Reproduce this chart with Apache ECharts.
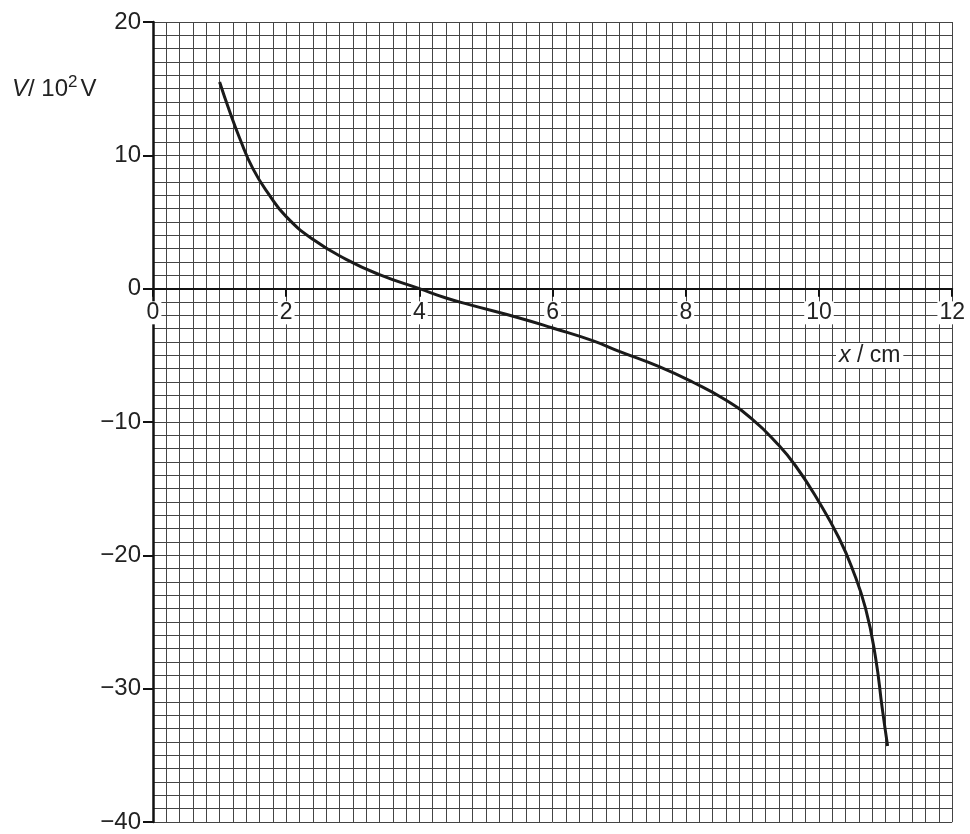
<!DOCTYPE html>
<html>
<head>
<meta charset="utf-8">
<script src="https://cdn.jsdelivr.net/npm/echarts@6/dist/echarts.min.js"></script>
<style>
  html, body { margin: 0; padding: 0; background: #fff; }
  #chart { width: 970px; height: 834px; }
</style>
</head>
<body>
<div id="chart"></div>
<script>
// x / cm and V / 10^2 V
const xValues = [1.0, 1.15, 1.3, 1.5, 1.75, 2.0, 2.4, 2.9, 3.4, 4.0, 4.4, 4.75, 5.5, 6.0, 6.6, 7.0, 7.6, 8.1, 8.6, 9.0, 9.35, 9.65, 10.0, 10.3, 10.5, 10.7, 10.85, 10.95, 11.03]
const vValues = [15.5, 13.3, 11.3, 9.0, 7.0, 5.4, 3.7, 2.2, 1.05, 0, -0.7, -1.2, -2.2, -2.95, -3.9, -4.7, -5.85, -7.0, -8.35, -9.8, -11.5, -13.3, -16.0, -18.7, -21.0, -24.0, -27.7, -31.5, -34.3]

const xRange = [0, 12]
const vRange = [-40, 20]

const FONT = 'Liberation Sans, Arial, sans-serif'
const GRID_COLOR = '#444'
const minus = v => (v < 0 ? '\u2212' + Math.abs(v) : String(v))

// grid box in px
const GRID = { left: 153, right: 13, top: 22, bottom: 10 }
const plotH = 834 - GRID.top - GRID.bottom
const zeroFromBottom = plotH * (0 - vRange[0]) / (vRange[1] - vRange[0])

const chart = echarts.init(document.getElementById('chart'))
chart.setOption({
  animation: false,
  backgroundColor: '#fff',
  grid: { ...GRID, containLabel: false },
  xAxis: {
    type: 'value',
    min: xRange[0],
    max: xRange[1],
    interval: 2,
    axisLine: { onZero: true, lineStyle: { color: '#111', width: 2 } },
    axisTick: { show: true, length: 8, lineStyle: { color: '#111', width: 2 } },
    axisLabel: {
      fontSize: 23, color: '#222', fontFamily: FONT,
      // labels sit under the V = 0 line, not under the grid
      margin: 14 - zeroFromBottom,
      backgroundColor: '#fff', padding: [0, 2, 0, 2],
      showMinLabel: true, showMaxLabel: true,
    },
    splitLine: { show: true, lineStyle: { color: GRID_COLOR, width: 1 } },
    minorTick: { show: false, splitNumber: 10 },
    minorSplitLine: { show: true, lineStyle: { color: GRID_COLOR, width: 1 } },
  },
  yAxis: {
    type: 'value',
    min: vRange[0],
    max: vRange[1],
    interval: 10,
    axisLine: { show: true, onZero: false, lineStyle: { color: '#111', width: 2.5 } },
    axisTick: { show: true, length: 10, lineStyle: { color: '#111', width: 2 } },
    axisLabel: { fontSize: 24, color: '#222', fontFamily: FONT, margin: 12, formatter: minus },
    splitLine: { show: true, lineStyle: { color: GRID_COLOR, width: 1 } },
    minorTick: { show: false, splitNumber: 10 },
    minorSplitLine: { show: true, lineStyle: { color: GRID_COLOR, width: 1 } },
  },
  graphic: [
    {
      type: 'text', left: 12, top: 74, z: 10,
      style: {
        text: '{i|V}{n|/ 10}{s|2}{n|V}',
        rich: {
          i: { fontSize: 24, fontStyle: 'italic', fontFamily: FONT, fill: '#222' },
          n: { fontSize: 24, fontFamily: FONT, fill: '#222' },
          s: { fontSize: 17, fontFamily: FONT, fill: '#222', padding: [0, 3, 14, 0] },
        },
      },
    },
    {
      type: 'text', left: 836, top: 343, z: 10,
      style: {
        text: '{i|x}{n| / cm}',
        backgroundColor: '#fff',
        padding: [1, 3, 1, 3],
        rich: {
          i: { fontSize: 23, fontStyle: 'italic', fontFamily: FONT, fill: '#222' },
          n: { fontSize: 23, fontFamily: FONT, fill: '#222' },
        },
      },
    },
  ],
  series: [{
    type: 'line',
    smooth: 0.5,
    symbol: 'none',
    lineStyle: { color: '#1a1a1a', width: 3 },
    data: xValues.map((x, i) => [x, vValues[i]]),
    z: 5,
  }],
})
</script>
</body>
</html>
